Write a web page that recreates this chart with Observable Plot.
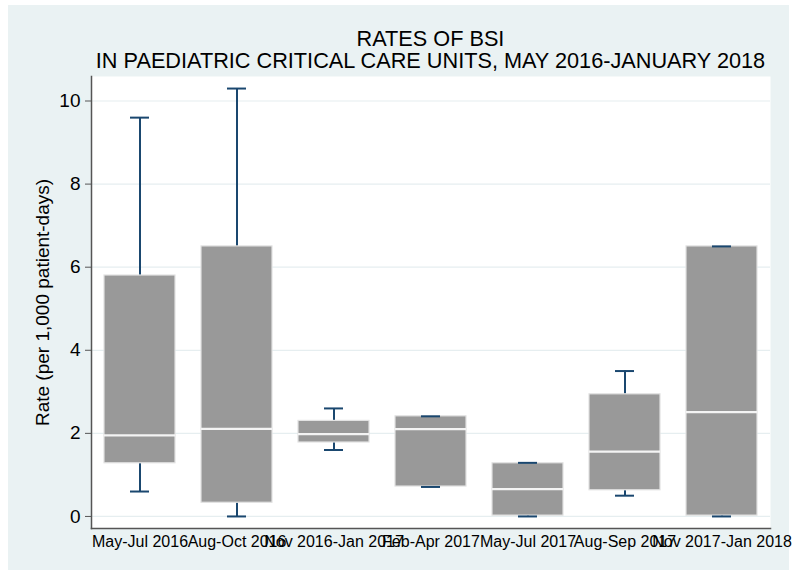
<!DOCTYPE html>
<html>
<head>
<meta charset="utf-8">
<script src="https://cdn.jsdelivr.net/npm/d3@7"></script>
<script src="https://cdn.jsdelivr.net/npm/@observablehq/plot@0.6"></script>
<style>
  html, body { margin: 0; padding: 0; background: #ffffff; }
  #wrap { position: relative; width: 795px; height: 570px; overflow: hidden; font-family: "Liberation Sans", Arial, sans-serif; }
  #bg { position: absolute; left: 8px; top: 5px; width: 781px; height: 565px; background: #eaf2f3; }
  #title { position: absolute; left: 91px; width: 679px; top: 28px; text-align: center; font-size: 21.7px; line-height: 22px; color: #000; white-space: nowrap; }
  #chart { position: absolute; left: 0; top: 0; }
</style>
</head>
<body>
<div id="wrap">
  <div id="bg"></div>
  <div id="title">RATES OF BSI<br>IN PAEDIATRIC CRITICAL CARE UNITS, MAY 2016-JANUARY 2018</div>
  <div id="chart"></div>
</div>
<script>
// ---- data ----
const categories = ["May-Jul 2016", "Aug-Oct 2016", "Nov 2016-Jan 2017", "Feb-Apr 2017", "May-Jul 2017", "Aug-Sep 2017", "Nov 2017-Jan 2018"];
const minVals    = [0.6, 0.0, 1.6, 0.71, 0.0, 0.5, 0.0];
const q1Vals     = [1.28, 0.33, 1.78, 0.72, 0.02, 0.63, 0.02];
const medianVals = [1.95, 2.11, 1.98, 2.10, 0.66, 1.56, 2.51];
const q3Vals     = [5.8, 6.5, 2.30, 2.41, 1.28, 2.94, 6.5];
const maxVals    = [9.6, 10.3, 2.6, 2.41, 1.29, 3.5, 6.5];
const yTicks     = [0, 2, 4, 6, 8, 10];

const data = categories.map((c, i) => ({
  cat: c, min: minVals[i], q1: q1Vals[i], med: medianVals[i], q3: q3Vals[i], max: maxVals[i]
}));

const whisker = "#1a476f";
const capInset = 26;

const chart = Plot.plot({
  width: 795,
  height: 570,
  marginLeft: 91,
  marginRight: 25,
  marginTop: 76,
  marginBottom: 42,
  style: { background: "transparent", fontFamily: "Liberation Sans, Arial, sans-serif", color: "#000" },
  x: { domain: categories, paddingInner: 0.27, paddingOuter: 0.135, label: null },
  y: { domain: [-0.29, 10.59], label: null },
  marks: [
    Plot.frame({ fill: "white", stroke: null }),
    Plot.gridY(yTicks, { stroke: "#e6eef0", strokeOpacity: 1, strokeWidth: 1.2 }),
    Plot.ruleX(data, { x: "cat", y1: "q3", y2: "max", stroke: whisker, strokeWidth: 2 }),
    Plot.ruleX(data, { x: "cat", y1: "min", y2: "q1", stroke: whisker, strokeWidth: 2 }),
    Plot.barY(data, { x: "cat", y1: "q1", y2: "q3", fill: "#999999", stroke: "#e2e2e2", strokeWidth: 1.2 }),
    Plot.tickY(data, { x: "cat", y: "med", stroke: "#f4f4f4", strokeWidth: 2.2 }),
    Plot.tickY(data, { x: "cat", y: "max", stroke: whisker, strokeWidth: 2, insetLeft: capInset, insetRight: capInset }),
    Plot.tickY(data, { x: "cat", y: "min", stroke: whisker, strokeWidth: 2, insetLeft: capInset, insetRight: capInset }),
    Plot.frame({ anchor: "left", stroke: "#555", strokeWidth: 1.5 }),
    Plot.frame({ anchor: "bottom", stroke: "#555", strokeWidth: 1.5 }),
    Plot.axisY(yTicks, { tickSize: 6, tickPadding: 5, fontSize: 19, tickFormat: d => String(d), stroke: "#555",
      label: "Rate (per 1,000 patient-days)", labelAnchor: "center", labelArrow: "none", labelOffset: 56 }),
    Plot.axisX({ tickSize: 0, tickPadding: 7, fontSize: 16, label: null })
  ]
});
document.getElementById("chart").appendChild(chart);
</script>
</body>
</html>
